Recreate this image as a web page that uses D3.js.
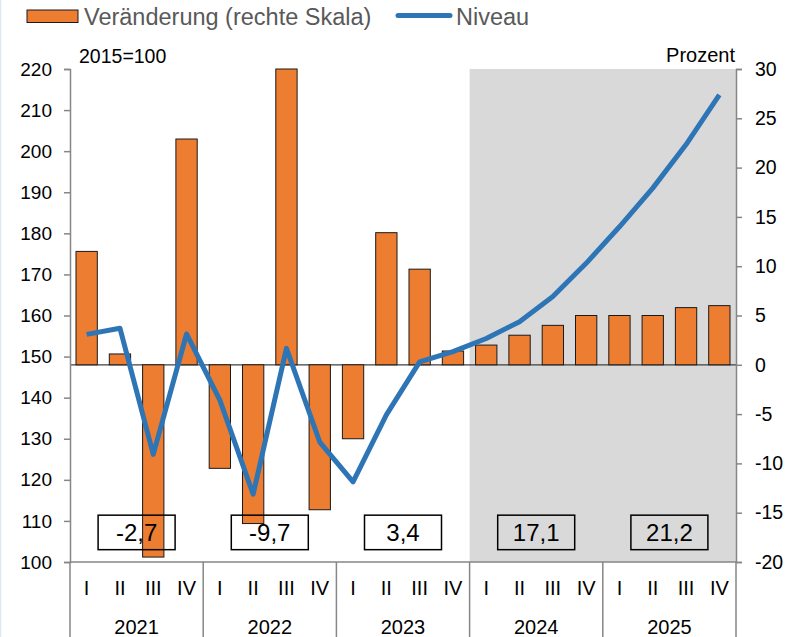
<!DOCTYPE html>
<html>
<head>
<meta charset="utf-8">
<script src="https://cdn.jsdelivr.net/npm/d3@7"></script>
<style>
  body { margin: 0; background: #fff; }
  text { font-family: "Liberation Sans", Arial, sans-serif; }
</style>
</head>
<body>
<div id="chart"></div>
<script>
// data
var years = ["2021", "2022", "2023", "2024", "2025"];
var quarters = ["I", "II", "III", "IV"];
var change = [11.5, 1.1, -19.5, 22.9, -10.5, -16.1, 30.0, -14.7, -7.5, 13.4, 9.7, 1.4, 2.0, 3.0, 4.0, 5.0, 5.0, 5.0, 5.8, 6.0];
var level = [155.4, 156.9, 126.2, 155.5, 139.4, 116.5, 152.0, 129.2, 119.5, 135.8, 148.7, 151.2, 154.4, 158.5, 164.6, 172.7, 181.6, 191.0, 201.6, 213.7];
var yearTotals = ["-2,7", "-9,7", "3,4", "17,1", "21,2"];
var leftTicks = [100, 110, 120, 130, 140, 150, 160, 170, 180, 190, 200, 210, 220];
var rightTicks = [-20, -15, -10, -5, 0, 5, 10, 15, 20, 25, 30];
var forecastFrom = 12; // first forecast quarter (2024 I)

var width = 794;
var height = 637;
var margin = { left: 70, right: 58, top: 69, bottom: 75 };

var cats = [];
years.forEach(function (y) {
    quarters.forEach(function (q) { cats.push(y + "-" + q); });
});

var svg = d3.select('#chart')
    .append('svg')
    .attr('width', width)
    .attr('height', height);

var x = d3.scaleBand()
    .domain(cats)
    .range([margin.left, width - margin.right])
    .paddingInner(0.36)
    .paddingOuter(0.18);
var step = x.step();

var yL = d3.scaleLinear()
    .domain([100, 220])
    .range([height - margin.bottom, margin.top]);
var yR = d3.scaleLinear()
    .domain([-20, 30])
    .range([height - margin.bottom, margin.top]);

var left = margin.left, right = width - margin.right;
var bottom = height - margin.bottom;
// left edge of the slot of category i (or right end of the axis)
function edge(i) { return i < cats.length ? x(cats[i]) - step * 0.18 : right; }
function yearMid(i) { return (edge(i * 4) + edge(i * 4 + 4)) / 2; }

// faint frame edge on the left
svg.append('line')
    .attr('x1', 0.5).attr('x2', 0.5).attr('y1', 0).attr('y2', height)
    .attr('stroke', '#dce8f3').attr('stroke-width', 1.5);

// forecast shading
svg.append('rect')
    .attr('x', edge(forecastFrom))
    .attr('y', margin.top)
    .attr('width', right - edge(forecastFrom))
    .attr('height', bottom - margin.top)
    .attr('fill', '#d9d9d9');

// zero line of the right scale
svg.append('line')
    .attr('x1', left).attr('x2', right)
    .attr('y1', yR(0)).attr('y2', yR(0))
    .attr('stroke', '#404040').attr('stroke-width', 1.2);

// bars
svg.append('g').selectAll('rect')
    .data(change)
    .enter()
    .append('rect')
    .attr('x', (d, i) => x(cats[i]))
    .attr('width', x.bandwidth())
    .attr('y', d => yR(Math.max(0, d)))
    .attr('height', d => Math.abs(yR(d) - yR(0)))
    .attr('fill', '#ed7d31')
    .attr('stroke', '#1a1a1a')
    .attr('stroke-width', 1);

// level line
var line = d3.line()
    .x((d, i) => x(cats[i]) + x.bandwidth() / 2)
    .y(d => yL(d));
svg.append('path')
    .datum(level)
    .attr('d', line)
    .attr('fill', 'none')
    .attr('stroke', '#2e75b6')
    .attr('stroke-width', 5)
    .attr('stroke-linejoin', 'round');

// year total boxes
var boxW = 77, boxH = 34.5;
var boxes = svg.append('g').selectAll('g')
    .data(yearTotals)
    .enter()
    .append('g');
boxes.append('rect')
    .attr('x', (d, i) => yearMid(i) - boxW / 2)
    .attr('y', yR(-17) - boxH / 2)
    .attr('width', boxW)
    .attr('height', boxH)
    .attr('fill', 'none')
    .attr('stroke', '#000')
    .attr('stroke-width', 1.5);
boxes.append('text')
    .attr('x', (d, i) => yearMid(i))
    .attr('y', yR(-17) + 8.5)
    .attr('text-anchor', 'middle')
    .attr('font-size', 24)
    .attr('fill', '#000')
    .text(d => d);

// left axis
var axL = svg.append('g')
    .attr('transform', 'translate(' + left + ',0)')
    .call(d3.axisLeft(yL).tickValues(leftTicks).tickSize(6).tickPadding(12));
axL.select('.domain').attr('stroke', '#868686').attr('stroke-width', 1.5);
axL.selectAll('.tick line').attr('stroke', '#868686').attr('stroke-width', 1.5);
axL.selectAll('.tick text').attr('font-size', 19).attr('fill', '#000')
    .style('font-family', '"Liberation Sans", Arial, sans-serif');

// right axis (plain hyphen as minus, like the original)
var axR = svg.append('g')
    .attr('transform', 'translate(' + right + ',0)')
    .call(d3.axisRight(yR).tickValues(rightTicks).tickSize(6).tickPadding(13)
        .tickFormat(d => String(d)));
axR.select('.domain').attr('stroke', '#868686').attr('stroke-width', 1.5);
axR.selectAll('.tick line').attr('stroke', '#868686').attr('stroke-width', 1.5);
axR.selectAll('.tick text').attr('font-size', 19.5).attr('fill', '#000')
    .style('font-family', '"Liberation Sans", Arial, sans-serif');

// category axis
svg.append('line')
    .attr('x1', left).attr('x2', right)
    .attr('y1', bottom).attr('y2', bottom)
    .attr('stroke', '#868686').attr('stroke-width', 1.5);
var seps = d3.range(0, cats.length + 1, 4);
svg.append('g').selectAll('line')
    .data(seps)
    .enter()
    .append('line')
    .attr('x1', d => edge(d))
    .attr('x2', d => edge(d))
    .attr('y1', bottom)
    .attr('y2', height)
    .attr('stroke', '#868686')
    .attr('stroke-width', 1.5);

svg.append('g').selectAll('text')
    .data(cats)
    .enter()
    .append('text')
    .attr('x', d => x(d) + x.bandwidth() / 2)
    .attr('y', 595)
    .attr('text-anchor', 'middle')
    .attr('font-size', 20)
    .attr('fill', '#000')
    .text(d => d.split('-')[1]);

svg.append('g').selectAll('text')
    .data(years)
    .enter()
    .append('text')
    .attr('x', (d, i) => yearMid(i))
    .attr('y', 634)
    .attr('text-anchor', 'middle')
    .attr('font-size', 20)
    .attr('fill', '#000')
    .text(d => d);

// axis titles
svg.append('text')
    .attr('x', 79).attr('y', 63)
    .attr('font-size', 19.5).attr('fill', '#000')
    .text('2015=100');
svg.append('text')
    .attr('x', 735).attr('y', 61.5)
    .attr('text-anchor', 'end')
    .attr('font-size', 20).attr('fill', '#000')
    .text('Prozent');

// legend
svg.append('rect')
    .attr('x', 27).attr('y', 10).attr('width', 51).attr('height', 12.5)
    .attr('fill', '#ed7d31').attr('stroke', '#1a1a1a').attr('stroke-width', 1);
svg.append('text')
    .attr('x', 84).attr('y', 25)
    .attr('font-size', 23.5).attr('fill', '#595959')
    .text('Veränderung (rechte Skala)');
svg.append('line')
    .attr('x1', 398).attr('x2', 450).attr('y1', 15.5).attr('y2', 15.5)
    .attr('stroke', '#2e75b6').attr('stroke-width', 5).attr('stroke-linecap', 'round');
svg.append('text')
    .attr('x', 456).attr('y', 25)
    .attr('font-size', 23.5).attr('fill', '#595959')
    .text('Niveau');
</script>
</body>
</html>
